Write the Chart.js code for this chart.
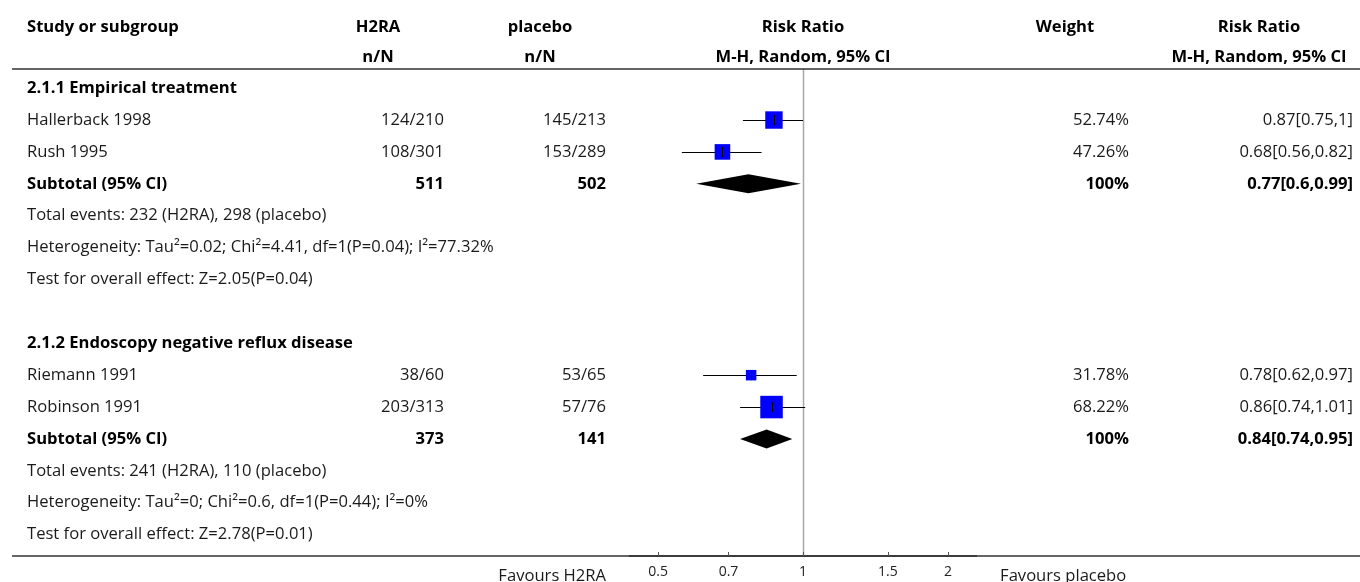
<!DOCTYPE html>
<html>
<head>
<meta charset="utf-8">
<script src="https://cdn.jsdelivr.net/npm/chart.js@4.4.1/dist/chart.umd.min.js"></script>
<style>
  html, body { margin: 0; padding: 0; background: #fff; }
  canvas { display: block; }
</style>
</head>
<body>
<canvas id="forest" width="1360" height="582"></canvas>
<script>
// ---- data -------------------------------------------------------------
// Each table line has a row index (0 = first line under the header rule).
const studyNames    = ['Hallerback 1998', 'Rush 1995', 'Riemann 1991', 'Robinson 1991'];
const studyRows     = [1, 2, 9, 10];
const h2raEvents    = ['124/210', '108/301', '38/60', '203/313'];
const placeboEvents = ['145/213', '153/289', '53/65', '57/76'];
const studyRR       = [0.87, 0.68, 0.78, 0.86];
const studyLow      = [0.75, 0.56, 0.62, 0.74];
const studyHigh     = [1, 0.82, 0.97, 1.01];
const studyWeight   = [52.74, 47.26, 31.78, 68.22];

const groupTitles    = ['2.1.1 Empirical treatment', '2.1.2 Endoscopy negative reflux disease'];
const groupTitleRows = [0, 8];

const subtotalRows    = [3, 11];
const subtotalH2RA    = ['511', '373'];
const subtotalPlacebo = ['502', '141'];
const subtotalRR      = [0.77, 0.84];
const subtotalLow     = [0.6, 0.74];
const subtotalHigh    = [0.99, 0.95];
const subtotalWeight  = [100, 100];

const noteRows  = [4, 5, 6, 12, 13, 14];
const noteTexts = [
  'Total events: 232 (H2RA), 298 (placebo)',
  'Heterogeneity: Tau\u00B2=0.02; Chi\u00B2=4.41, df=1(P=0.04); I\u00B2=77.32%',
  'Test for overall effect: Z=2.05(P=0.04)',
  'Total events: 241 (H2RA), 110 (placebo)',
  'Heterogeneity: Tau\u00B2=0; Chi\u00B2=0.6, df=1(P=0.44); I\u00B2=0%',
  'Test for overall effect: Z=2.78(P=0.01)'
];

const tickValues = [0.5, 0.7, 1, 1.5, 2];
const tickLabels = ['0.5', '0.7', '1', '1.5', '2'];

const headerTop    = ['Study or subgroup', 'H2RA', 'placebo', 'Risk Ratio', 'Weight', 'Risk Ratio'];
const headerBottom = ['', 'n/N', 'n/N', 'M-H, Random, 95% CI', '', 'M-H, Random, 95% CI'];
const favourLeft   = 'Favours H2RA';
const favourRight  = 'Favours placebo';

// ---- layout -----------------------------------------------------------
const FONT = "'Open Sans', sans-serif";
const TEXT_SIZE = 16.6;
const LEFT_X = 27;
const COL_CENTER = [null, 378, 540, null, 1065, 1259]; // header centres
const COL_RIGHT  = [null, 444, 606, null, 1129, 1353]; // right edge of values
const HEADER_Y = [27, 57];

const fmtRR = (m, lo, hi) => `${m}[${lo},${hi}]`;
const fmtWeight = w => (w === 100 ? '100' : w.toFixed(2)) + '%';

function text(ctx, str, x, y, align, bold) {
  ctx.font = `${bold ? 'bold ' : ''}${TEXT_SIZE}px ${FONT}`;
  ctx.fillStyle = bold ? '#000' : '#1a1a1a';
  ctx.textAlign = align;
  ctx.textBaseline = 'middle';
  ctx.fillText(str, x, y);
}

const forestPlugin = {
  id: 'forestTable',
  beforeDatasetsDraw(chart) {
    const { ctx, chartArea, scales: { x, y } } = chart;
    ctx.save();
    // line of no effect
    const x1 = Math.round(x.getPixelForValue(1)) + 0.5;
    ctx.strokeStyle = '#a8a8a8';
    ctx.lineWidth = 1.5;
    ctx.beginPath();
    ctx.moveTo(x1, chartArea.top);
    ctx.lineTo(x1, chartArea.bottom);
    ctx.stroke();
    // confidence intervals
    ctx.strokeStyle = '#000';
    ctx.lineWidth = 1.2;
    studyRows.forEach((row, i) => {
      const py = Math.round(y.getPixelForValue(row)) + 0.5;
      ctx.beginPath();
      ctx.moveTo(x.getPixelForValue(studyLow[i]), py);
      ctx.lineTo(x.getPixelForValue(studyHigh[i]), py);
      ctx.stroke();
    });
    ctx.restore();
  },
  afterDatasetsDraw(chart) {
    const { ctx, scales: { x, y } } = chart;
    ctx.save();
    // point-estimate marks inside the squares
    ctx.strokeStyle = '#000';
    ctx.lineWidth = 1;
    studyRows.forEach((row, i) => {
      const px = Math.round(x.getPixelForValue(studyRR[i])) + 0.5;
      const py = y.getPixelForValue(row);
      ctx.beginPath();
      ctx.moveTo(px, py - 5);
      ctx.lineTo(px, py + 5);
      ctx.stroke();
    });
    // pooled estimates
    ctx.fillStyle = '#000';
    subtotalRows.forEach((row, i) => {
      const py = y.getPixelForValue(row);
      const half = 9.5;
      ctx.beginPath();
      ctx.moveTo(x.getPixelForValue(subtotalLow[i]), py);
      ctx.lineTo(x.getPixelForValue(subtotalRR[i]), py - half);
      ctx.lineTo(x.getPixelForValue(subtotalHigh[i]), py);
      ctx.lineTo(x.getPixelForValue(subtotalRR[i]), py + half);
      ctx.closePath();
      ctx.fill();
    });
    ctx.restore();
  },
  afterDraw(chart) {
    const { ctx, chartArea, scales: { x, y } } = chart;
    const W = chart.width;
    const midRR = (chartArea.left + chartArea.right) / 2;
    ctx.save();

    // header
    headerTop.forEach((t, c) => {
      const cx = c === 0 ? LEFT_X : (c === 3 ? midRR : COL_CENTER[c]);
      text(ctx, t, cx, HEADER_Y[0], c === 0 ? 'left' : 'center', true);
      if (headerBottom[c]) {
        text(ctx, headerBottom[c], cx, HEADER_Y[1], 'center', true);
      }
    });

    // rules
    ctx.strokeStyle = '#333';
    ctx.lineWidth = 1.6;
    ctx.beginPath();
    ctx.moveTo(12, chartArea.top);
    ctx.lineTo(W, chartArea.top);
    ctx.moveTo(12, chartArea.bottom);
    ctx.lineTo(W, chartArea.bottom);
    ctx.stroke();

    // axis tick marks (pointing up into the plot)
    ctx.strokeStyle = '#555';
    ctx.lineWidth = 1;
    x.ticks.forEach(t => {
      const px = Math.round(x.getPixelForValue(t.value)) + 0.5;
      ctx.beginPath();
      ctx.moveTo(px, chartArea.bottom);
      ctx.lineTo(px, chartArea.bottom - 4);
      ctx.stroke();
    });

    // group titles
    groupTitleRows.forEach((row, i) => text(ctx, groupTitles[i], LEFT_X, y.getPixelForValue(row), 'left', true));

    // studies
    studyRows.forEach((row, i) => {
      const py = y.getPixelForValue(row);
      text(ctx, studyNames[i], LEFT_X, py, 'left', false);
      text(ctx, h2raEvents[i], COL_RIGHT[1], py, 'right', false);
      text(ctx, placeboEvents[i], COL_RIGHT[2], py, 'right', false);
      text(ctx, fmtWeight(studyWeight[i]), COL_RIGHT[4], py, 'right', false);
      text(ctx, fmtRR(studyRR[i], studyLow[i], studyHigh[i]), COL_RIGHT[5], py, 'right', false);
    });

    // subtotals
    subtotalRows.forEach((row, i) => {
      const py = y.getPixelForValue(row);
      text(ctx, 'Subtotal (95% CI)', LEFT_X, py, 'left', true);
      text(ctx, subtotalH2RA[i], COL_RIGHT[1], py, 'right', true);
      text(ctx, subtotalPlacebo[i], COL_RIGHT[2], py, 'right', true);
      text(ctx, fmtWeight(subtotalWeight[i]), COL_RIGHT[4], py, 'right', true);
      text(ctx, fmtRR(subtotalRR[i], subtotalLow[i], subtotalHigh[i]), COL_RIGHT[5], py, 'right', true);
    });

    // heterogeneity notes
    noteRows.forEach((row, i) => text(ctx, noteTexts[i], LEFT_X, y.getPixelForValue(row), 'left', false));

    // favours labels
    const x1 = x.getPixelForValue(1);
    text(ctx, favourLeft, x1 - 197, 576, 'right', false);
    text(ctx, favourRight, x1 + 197, 576, 'left', false);

    ctx.restore();
  }
};

new Chart(document.getElementById('forest'), {
  type: 'scatter',
  data: {
    datasets: [{
      data: studyRows.map((row, i) => ({ x: studyRR[i], y: row })),
      pointStyle: 'rect',
      pointRadius: studyWeight.map(w => (w * 0.33) / Math.SQRT2),
      backgroundColor: '#0000ff',
      borderWidth: 0
    }]
  },
  options: {
    responsive: false,
    animation: false,
    devicePixelRatio: 1,
    events: [],
    layout: { padding: { left: 630, right: 384, top: 69, bottom: 0 } },
    plugins: { legend: { display: false }, tooltip: { enabled: false } },
    scales: {
      x: {
        type: 'logarithmic',
        min: 0.437,
        max: 2.287,
        afterBuildTicks: s => { s.ticks = tickValues.map(v => ({ value: v })); },
        afterFit: s => { s.height = 26; },
        grid: { display: false, drawTicks: false },
        border: { display: true, color: '#555', width: 2 },
        ticks: {
          padding: 8,
          color: '#222',
          font: { family: FONT, size: 14 },
          maxRotation: 0,
          autoSkip: false,
          callback: v => tickLabels[tickValues.indexOf(v)] ?? ''
        }
      },
      y: {
        type: 'linear',
        reverse: true,
        min: -0.6,
        max: 14.67,
        display: false
      }
    }
  },
  plugins: [forestPlugin]
});
</script>
</body>
</html>
